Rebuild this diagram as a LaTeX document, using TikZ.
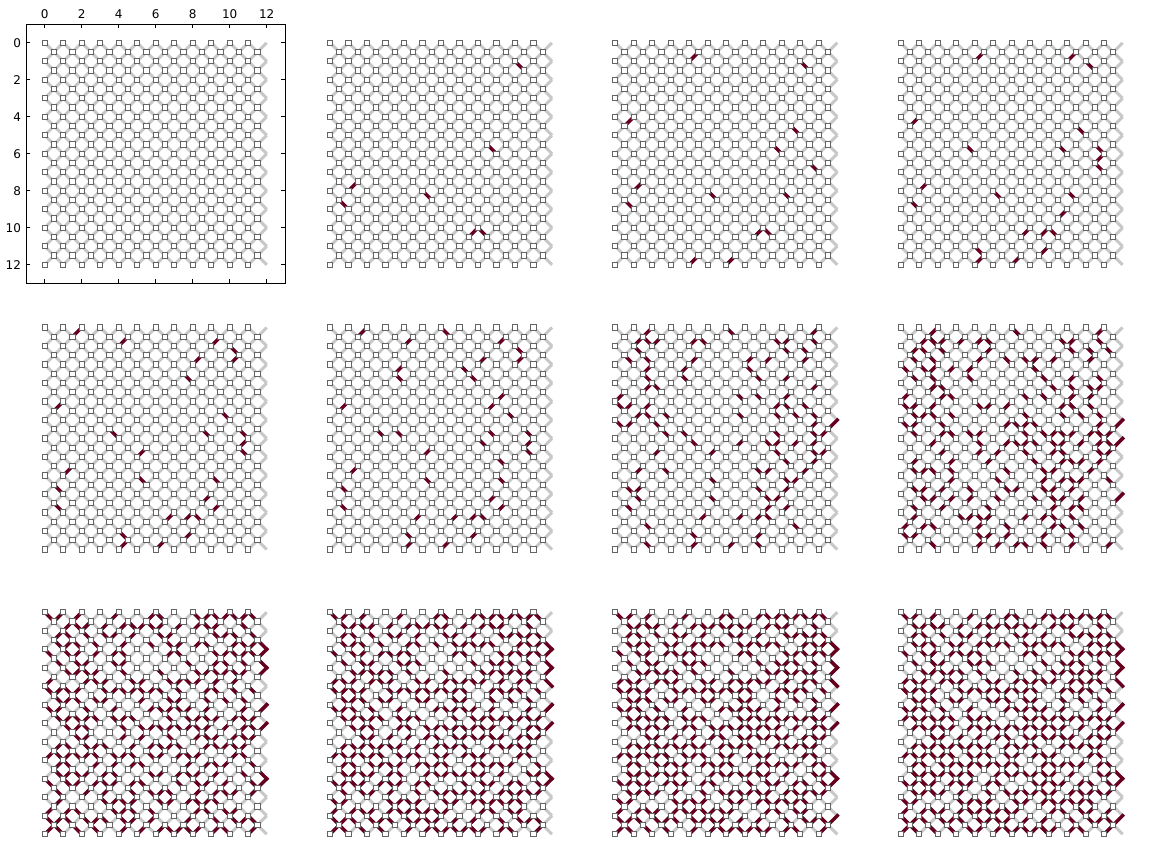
\documentclass[tikz,border=0pt]{standalone}
\usepackage{fontspec}
\setmainfont{DejaVu Sans}
\usepackage{xcolor}
\usepackage{tikz}

\definecolor{bondgray}{RGB}{200,200,200}
\definecolor{bondred}{RGB}{103,0,31}
\definecolor{sitegray}{RGB}{100,100,100}

% flipped bonds: x1/y1/x2/y2/first panel where they show up
\newcommand{\flipped}{%
  10/1/10.5/1.5/2, 8.5/5.5/9/6/2, 1/8/1.5/7.5/2, 0.5/8.5/1/9/2,
  5/8/5.5/8.5/2, 7.5/10.5/8/10/2, 8/10/8.5/10.5/2,
  4/1/4.5/0.5/3, 0.5/4.5/1/4/3, 9.5/4.5/10/5/3, 10.5/6.5/11/7/3,
  9/8/9.5/8.5/3, 4/12/4.5/11.5/3, 6/12/6.5/11.5/3,
  9/1/9.5/0.5/4, 3.5/5.5/4/6/4, 10.5/5.5/11/6/4, 10.5/6.5/11/6/4,
  8.5/9.5/9/9/4, 6.5/10.5/7/10/4, 7.5/11.5/8/11/4, 4/11/4.5/11.5/4,
  1.5/0.5/2/0/5, 10/2/10.5/1.5/5, 8/2/8.5/1.5/5, 7.5/2.5/8/3/5,
  5/7/5.5/6.5/5, 0.5/9.5/1/10/5, 9/10/9.5/9.5/5,
  6/0/6.5/0.5/6, 3.5/2.5/4/2/6, 3.5/2.5/4/3/6, 7/2/7.5/2.5/6,
  9/4/9.5/3.5/6, 8.5/4.5/9/4/6, 2.5/5.5/3/6/6, 8/6/8.5/6.5/6,
  9/7/9.5/7.5/6, 4.5/10.5/5/10/6,
  10.5/0.5/11/0/7, 1/1/1.5/0.5/7, 1.5/0.5/2/1/7, 2/1/2.5/0.5/7,
  4.5/0.5/5/1/7, 8.5/0.5/9/1/7, 10.5/0.5/11/1/7, 1/1/1.5/1.5/7,
  9/1/9.5/1.5/7, 0.5/1.5/1/2/7, 1.5/1.5/2/2/7, 7/2/7.5/1.5/7,
  4/2/4.5/1.5/7, 1.5/2.5/2/2/7, 1.5/2.5/2/3/7, 9/3/9.5/2.5/7,
  1.5/3.5/2/3/7, 2/3/2.5/3.5/7, 10.5/3.5/11/3/7, 0/4/0.5/3.5/7,
  6.5/3.5/7/4/7, 7.5/3.5/8/4/7, 0/4/0.5/4.5/7, 1.5/4.5/2/4/7,
  1/5/1.5/4.5/7, 1.5/4.5/2/5/7, 9/4/9.5/4.5/7, 10/4/10.5/4.5/7,
  0/5/0.5/5.5/7, 0.5/5.5/1/5/7, 2.5/4.5/3/5/7, 6.5/4.5/7/5/7,
  8.5/4.5/9/5/7, 10.5/4.5/11/5/7, 11.5/5.5/12/5/7, 10.5/5.5/11/5/7,
  2/5/2.5/5.5/7, 4/6/4.5/6.5/7, 8.5/6.5/9/6/7, 11/6/11.5/5.5/7,
  9.5/6.5/10/6/7, 6.5/6.5/7/6/7, 2/7/2.5/6.5/7, 8.5/6.5/9/7/7,
  11/7/11.5/6.5/7, 10.5/7.5/11/7/7, 10/8/10.5/7.5/7, 7.5/7.5/8/8/7,
  8/8/8.5/7.5/7, 2.5/7.5/3/8/7, 9.5/8.5/10/8/7, 1/9/1.5/8.5/7,
  1/9/1.5/9.5/7, 7.5/8.5/8/9/7, 8/9/8.5/9.5/7, 9/9/9.5/8.5/7,
  5/9/5.5/9.5/7, 8/10/8.5/9.5/7, 1.5/10.5/2/11/7, 9.5/10.5/10/11/7,
  1.5/11.5/2/12/7, 7.5/11.5/8/12/7}

% one panel: #1 column, #2 row, #3 share of random bonds, #4 panel number
\newcommand{\lattice}[4]{%
  \begin{scope}[shift={(44.7pt+285.3pt*#1,-42.8pt-284.7pt*#2)}, x=18.5pt, y=-18.5pt]
    % grey bonds along the diagonals
    \foreach \k in {-11,...,11}
      \draw[bond] ({max(0,\k)},{max(0,-\k)}) -- ({min(12,12+\k)},{min(12,12-\k)});
    \foreach \k in {1,...,23}
      \draw[bond] ({max(0,\k-12)},{min(12,\k)}) -- ({min(12,\k)},{max(0,\k-12)});
    % random bonds (same seed in every panel)
    \pgfmathsetseed{2718}
    \foreach \i in {0,...,11}
      \foreach \j in {0,...,11}
        \foreach \dx/\dy in {-1/-1,1/-1,-1/1,1/1}{
          \pgfmathsetmacro{\rr}{rnd}
          \ifdim\rr pt<#3pt
            \draw[flip] (\i+0.5,\j+0.5) -- ++(0.5*\dx,0.5*\dy);
          \fi
        }
    % bonds flipped so far
    \foreach \xa/\ya/\xb/\yb/\n in \flipped{
      \ifnum\n>#4\relax\else
        \draw[flip] (\xa,\ya) -- (\xb,\yb);
      \fi
    }
    % sites
    \foreach \i in {0,...,11}{
      \foreach \j in {0,...,12}
        \draw[site] (\i,\j) ++(-2.6pt,-2.6pt) rectangle ++(5.2pt,5.2pt);
      \foreach \j in {0,...,11}
        \draw[site] (\i+0.5,\j+0.5) ++(-2.6pt,-2.6pt) rectangle ++(5.2pt,5.2pt);
    }
  \end{scope}
}

\begin{document}
\begin{tikzpicture}[
  bond/.style={draw=bondgray, line width=3pt},
  flip/.style={draw=bondred, line width=3.4pt, line cap=rect},
  site/.style={draw=sitegray, fill=white, line width=1pt},
  frame/.style={draw=black, line width=1pt},
  ticklabel/.style={inner sep=0pt, font=\fontsize{12}{14}\selectfont}
]
\useasboundingbox (0,0) rectangle (1152pt,-864pt);

% Panels
\lattice{0}{0}{0}{1}
\lattice{1}{0}{0}{2}
\lattice{2}{0}{0}{3}
\lattice{3}{0}{0}{4}
\lattice{0}{1}{0}{5}
\lattice{1}{1}{0}{6}
\lattice{2}{1}{0}{7}
\lattice{3}{1}{0.20}{8}
\lattice{0}{2}{0.41}{9}
\lattice{1}{2}{0.54}{10}
\lattice{2}{2}{0.57}{11}
\lattice{3}{2}{0.59}{12}

% Axes of the first panel
\begin{scope}[shift={(44.7pt,-42.8pt)}, x=18.5pt, y=-18.5pt]
  \draw[frame] (-1,-1) rectangle (13,13);
  \foreach \t in {0,2,...,12}{
    \draw[frame] (\t,-1) -- ++(0pt,-4pt);
    \draw[frame] (\t,13) -- ++(0pt,4pt);
    \draw[frame] (-1,\t) -- ++(4pt,0pt);
    \draw[frame] (13,\t) -- ++(-4pt,0pt);
    \node (xt\t) [ticklabel, anchor=south, yshift=5.5pt] at (\t,-1) {\t};
    \node (yt\t) [ticklabel, anchor=east, xshift=-5pt] at (-1,\t) {\t};
  }
\end{scope}

\end{tikzpicture}
\end{document}
